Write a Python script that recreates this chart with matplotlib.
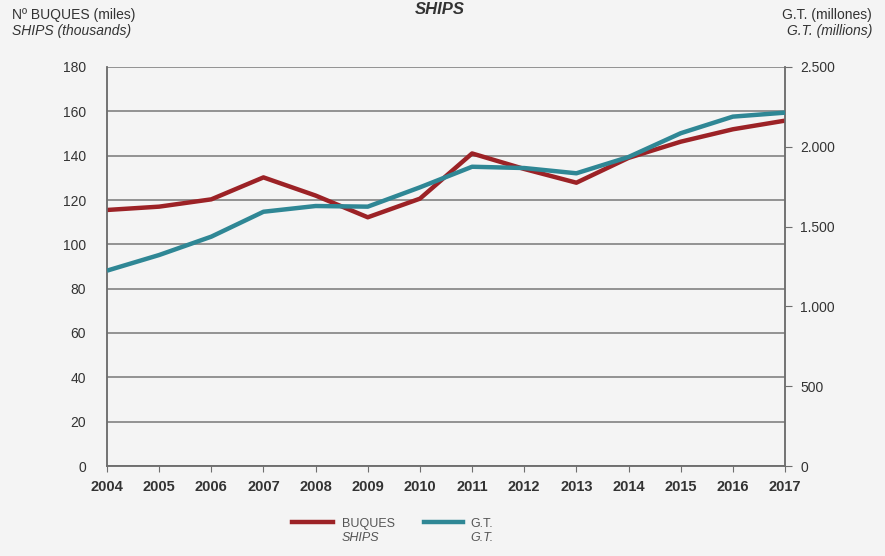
import numpy as np
import matplotlib.pyplot as plt
from matplotlib.lines import Line2D

plt.rcParams['font.family'] = ['Liberation Sans', 'DejaVu Sans']

# data
years = np.arange(2004, 2018)
buques = [115.5, 117, 120.3, 130.2, 122, 112.2, 120.6, 141, 134, 127.8, 139, 146.3, 151.9, 155.8]
gt = [1224, 1322, 1437, 1593, 1629, 1625, 1746, 1875, 1867, 1834, 1936, 2085, 2189, 2214]

bg = '#f4f4f4'
red = '#9c2226'
teal = '#2f8795'
txt = '#333333'

fig = plt.figure(figsize=(8.85, 5.56), dpi=100, facecolor=bg)
ax = fig.add_axes([107/885, 1-466/556, 678/885, 399/556], facecolor=bg)
ax2 = ax.twinx()

ax.plot(years, buques, color=red, lw=3.2, solid_capstyle='butt', zorder=3)
ax2.plot(years, gt, color=teal, lw=3.2, solid_capstyle='butt', zorder=3)

ax.set_xlim(2004, 2017)
ax.set_ylim(0, 180)
ax2.set_ylim(0, 2500)
ax.set_yticks(np.arange(0, 181, 20))
ax2.set_yticks(np.arange(0, 2501, 500))
ax2.set_yticklabels(['0', '500', '1.000', '1.500', '2.000', '2.500'])
ax.set_xticks(years)

ax.grid(axis='y', color='#777777', lw=1.1)
ax.set_axisbelow(True)

for a in (ax, ax2):
    a.spines['top'].set_visible(False)
    for s in ('left', 'right', 'bottom'):
        a.spines[s].set_color('#6e6e6e')
        a.spines[s].set_linewidth(1.1)

ax.tick_params(axis='y', length=0, pad=15, labelsize=10, labelcolor=txt)
ax.tick_params(axis='x', length=4, color='#6e6e6e', pad=6, labelsize=10.5, labelcolor=txt)
for lbl in ax.get_xticklabels():
    lbl.set_fontweight('bold')
ax2.tick_params(axis='y', length=5, color='#6e6e6e', pad=6, labelsize=10, labelcolor=txt)

# headers
fig.text(440/885, 1-9/556, 'SHIPS', ha='center', va='center', fontsize=12,
         fontweight='bold', style='italic', color=txt)
fig.text(12/885, 1-15/556, 'Nº BUQUES (miles)', ha='left', va='center', fontsize=10, color=txt)
fig.text(12/885, 1-31/556, 'SHIPS (thousands)', ha='left', va='center', fontsize=10,
         style='italic', color=txt)
fig.text(872/885, 1-15/556, 'G.T. (millones)', ha='right', va='center', fontsize=10, color=txt)
fig.text(872/885, 1-31/556, 'G.T. (millions)', ha='right', va='center', fontsize=10,
         style='italic', color=txt)

# legend
fig.add_artist(Line2D([292/885, 333/885], [1-522/556]*2, color=red, lw=3.2))
fig.text(342/885, 1-524/556, 'BUQUES', ha='left', va='center', fontsize=9, color='#555555')
fig.text(342/885, 1-538/556, 'SHIPS', ha='left', va='center', fontsize=9, style='italic', color='#555555')
fig.add_artist(Line2D([424/885, 463/885], [1-522/556]*2, color=teal, lw=3.2))
fig.text(470/885, 1-524/556, 'G.T.', ha='left', va='center', fontsize=9, color='#555555')
fig.text(470/885, 1-538/556, 'G.T.', ha='left', va='center', fontsize=9, style='italic', color='#555555')

fig.savefig('out.png', dpi=100, facecolor=bg)
